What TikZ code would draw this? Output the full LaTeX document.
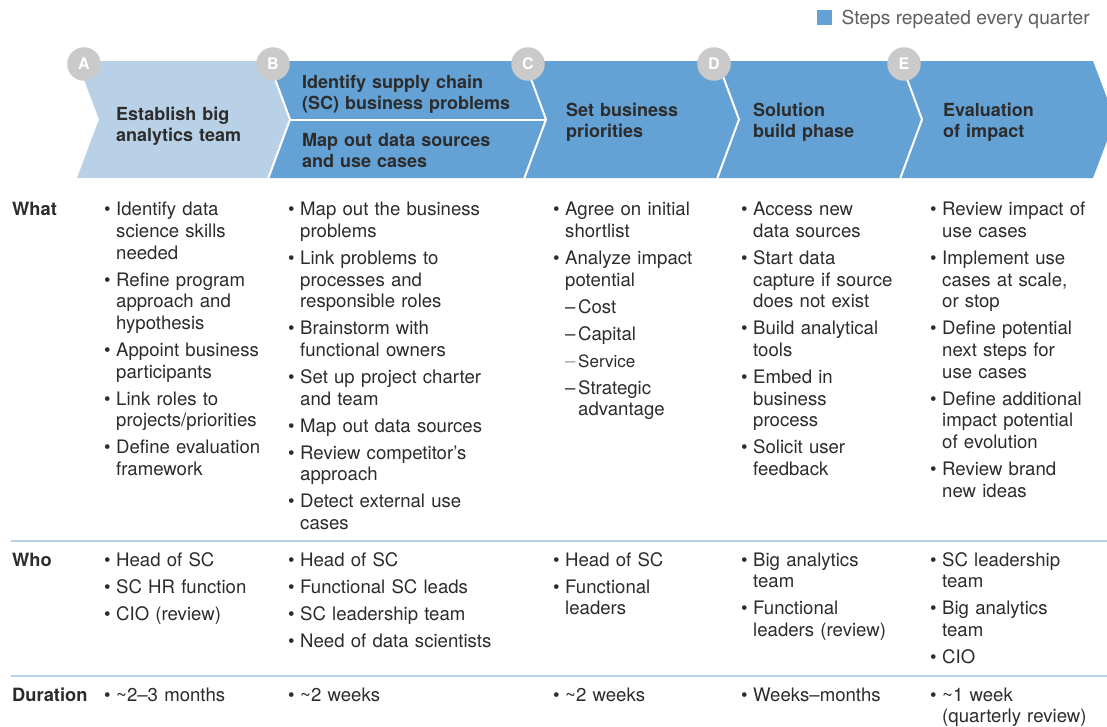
\documentclass[tikz,border=0pt]{standalone}
\usepackage{fontspec}
\setmainfont{TeX Gyre Heros}
\usetikzlibrary{positioning}

\definecolor{stepblue}{RGB}{100,161,213}
\definecolor{paleblue}{RGB}{185,209,231}
\definecolor{rulecol}{RGB}{184,208,232}
\definecolor{markgray}{RGB}{202,202,202}
\definecolor{ink}{RGB}{44,44,44}
\definecolor{keygray}{RGB}{95,95,95}

\newlength{\bulw}
\setlength{\bulw}{12pt}
\newcommand{\itm}[1]{\noindent\hangindent=\bulw\hangafter=1\strut\makebox[\bulw][l]{\textbullet}#1\par}
\newcommand{\subitm}[1]{\noindent\hangindent=25pt\hangafter=1\strut\hspace*{\bulw}\makebox[13pt][l]{–}#1\par}

\tikzset{rowlabel/.style = {anchor=base west, inner sep=0pt, text=ink,
                            font=\fontsize{18.3}{21.7}\selectfont\bfseries}}
\tikzset{bodycol/.style = {anchor=north west, inner sep=0pt, text width=#1, align=left, text=ink,
                           font=\fontsize{18.6}{21.7}\selectfont,
                           execute at begin node={\setlength{\parskip}{5.3pt}\strut}},
         bodycol/.default=240pt}
\tikzset{headtext/.style = {anchor=north west, inner sep=0pt, text width=230pt, align=left, text=ink,
                            font=\fontsize{18}{21}\selectfont\bfseries,
                            execute at begin node=\strut}}
\tikzset{stepmark/.style = {circle, fill=markgray, text=white, inner sep=0pt, minimum size=33.5pt,
                            font=\fontsize{16}{16}\selectfont\bfseries}}
\tikzset{sepline/.style = {draw=white, line width=2pt}}
\tikzset{rowrule/.style = {draw=rulecol, line width=1.2pt}}

\begin{document}
\begin{tikzpicture}[x=1pt, y=-1pt]
      \useasboundingbox (0, 0) rectangle (1107, 726);
      \fill [white] (0, 0) rectangle (1107, 726);

      % legend
      \node [fill=stepblue, inner sep=0pt, minimum width=15.5pt, minimum height=15.5pt] (key) at (824.5, 17.5) {};
      \node [anchor=base west, inner sep=0pt, text=keygray, font=\fontsize{19.2}{22}\selectfont] (keytext) at (841.5, 24) {Steps repeated every quarter};

      % chevrons
      \fill [paleblue] (77, 61) -- (268, 61) -- (290, 119.5) -- (268, 178) -- (77, 178) -- (99, 119.5) -- cycle;
      \fill [stepblue] (268, 61) -- (1093, 61) -- (1115, 119.5) -- (1093, 178) -- (268, 178) -- (290, 119.5) -- cycle;

      \draw [sepline] (268, 60) -- (290, 119.5) -- (268, 179);
      \draw [sepline] (524, 60) -- (546, 119.5) -- (524, 179);
      \draw [sepline] (717, 60) -- (739, 119.5) -- (717, 179);
      \draw [sepline] (900, 60) -- (922, 119.5) -- (900, 179);
      \draw [sepline] (290, 119.5) -- (546, 119.5);

      \node [stepmark] (markA) at (84, 64) {A};
      \node [stepmark] (markB) at (273, 64) {B};
      \node [stepmark] (markC) at (528, 64) {C};
      \node [stepmark] (markD) at (714, 64) {D};
      \node [stepmark] (markE) at (904, 64) {E};

      \node [headtext] (headA) at (116, 105.3) {Establish big\newline analytics team};
      \node [headtext] (headB1) at (302, 73.3) {Identify supply chain\newline (SC) business problems};
      \node [headtext] (headB2) at (302, 131.3) {Map out data sources\newline and use cases};
      \node [headtext] (headC) at (566, 101.3) {Set business\newline priorities};
      \node [headtext] (headD) at (753, 101.3) {Solution\newline build phase};
      \node [headtext] (headE) at (943, 101.3) {Evaluation\newline of impact};

      % rows
      \draw [rowrule] (11, 541) -- (1107, 541);
      \draw [rowrule] (11, 676) -- (1107, 676);

      \node [rowlabel] (what) at (12, 215.5) {What};
      \node [rowlabel] (who) at (12, 566) {Who};
      \node [rowlabel] (duration) at (12, 701) {Duration};

      \node [bodycol] (whatA) at (104, 200.3) {%
        \itm{Identify data\newline science skills\newline needed}
        \itm{Refine program\newline approach and\newline hypothesis}
        \itm{Appoint business\newline participants}
        \itm{Link roles to\newline projects/priorities}
        \itm{Define evaluation\newline framework}};
      \node [bodycol] (whatB) at (288, 200.3) {%
        \itm{Map out the business\newline problems}
        \itm{Link problems to\newline processes and\newline responsible roles}
        \itm{Brainstorm with\newline functional owners}
        \itm{Set up project charter\newline and team}
        \itm{Map out data sources}
        \itm{Review competitor’s\newline approach}
        \itm{Detect external use\newline cases}};
      \node [bodycol] (whatC) at (553, 200.3) {%
        \itm{Agree on initial\newline shortlist}
        \itm{Analyze impact\newline potential}
        \subitm{Cost}
        \subitm{Capital}
        \noindent\strut\hspace*{\bulw}\makebox[13pt][l]{\color{ink!45}–}{\fontsize{17}{21.7}\selectfont Service}\par
        \subitm{Strategic\newline advantage}};
      \node [bodycol] (whatD) at (741, 200.3) {%
        \itm{Access new\newline data sources}
        \itm{Start data\newline capture if source\newline does not exist}
        \itm{Build analytical\newline tools}
        \itm{Embed in\newline business\newline process}
        \itm{Solicit user\newline feedback}};
      \node [bodycol=170pt] (whatE) at (930, 200.3) {%
        \itm{Review impact of\newline use cases}
        \itm{Implement use\newline cases at scale,\newline or stop}
        \itm{Define potential\newline next steps for\newline use cases}
        \itm{Define additional\newline impact potential\newline of evolution}
        \itm{Review brand\newline new ideas}};

      \node [bodycol] (whoA) at (104, 550.8) {%
        \itm{Head of SC}
        \itm{SC HR function}
        \itm{CIO (review)}};
      \node [bodycol] (whoB) at (288, 550.8) {%
        \itm{Head of SC}
        \itm{Functional SC leads}
        \itm{SC leadership team}
        \itm{Need of data scientists}};
      \node [bodycol] (whoC) at (553, 550.8) {%
        \itm{Head of SC}
        \itm{Functional\newline leaders}};
      \node [bodycol] (whoD) at (741, 550.8) {%
        \itm{Big analytics\newline team}
        \itm{Functional\newline leaders (review)}};
      \node [bodycol=170pt] (whoE) at (930, 550.8) {%
        \itm{SC leadership\newline team}
        \itm{Big analytics\newline team}
        \itm{CIO}};

      \node [bodycol] (durA) at (104, 685.8) {\itm{\textasciitilde2–3 months}};
      \node [bodycol] (durB) at (288, 685.8) {\itm{\textasciitilde2 weeks}};
      \node [bodycol] (durC) at (553, 685.8) {\itm{\textasciitilde2 weeks}};
      \node [bodycol] (durD) at (741, 685.8) {\itm{Weeks–months}};
      \node [bodycol=170pt] (durE) at (930, 685.8) {\itm{\textasciitilde1 week\newline (quarterly review)}};
\end{tikzpicture}
\end{document}
